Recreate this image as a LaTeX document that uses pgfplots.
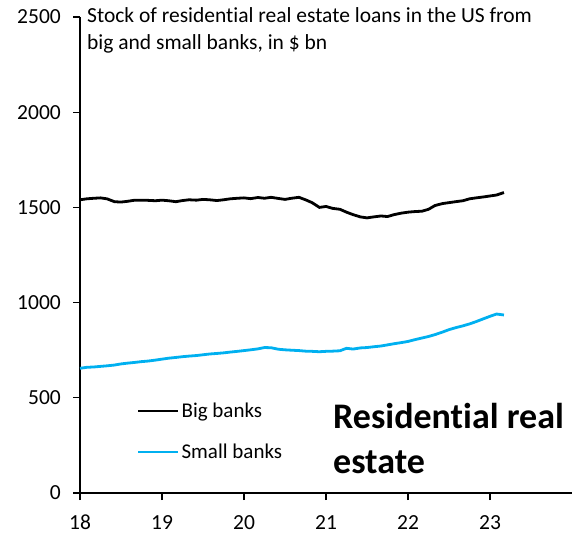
\documentclass[border=0pt]{standalone}
\usepackage{fontspec}
\setmainfont{Carlito}[Ligatures=NoCommon]
\usepackage{pgfplots}
\pgfplotsset{compat=1.18}
\definecolor{smallblue}{HTML}{00B0F0}
\begin{document}
\begin{tikzpicture}
\begin{axis}[
  scale only axis,
  width=492pt, height=476pt,
  xmin=18, xmax=24, ymin=0, ymax=2500,
  axis x line=bottom, axis y line=left,
  axis line style={-, line width=1.3pt},
  tick align=outside, major tick length=7pt,
  tick style={black, line width=1.1pt},
  xtick={18,19,20,21,22,23},
  ytick={0,500,1000,1500,2000,2500},
  /pgf/number format/assume math mode=true,
  /pgf/number format/set thousands separator={},
  ticklabel style={font=\fontsize{21.5}{24}\selectfont, inner sep=0pt},
  yticklabel style={xshift=-12pt},
  xticklabel style={yshift=-15pt},
  clip=false,
  legend style={draw=none, fill=none, at={(axis cs:18.69,323)}, anchor=west,
    font=\fontsize{21}{23}\selectfont, row sep=21pt, inner sep=0pt,
    /tikz/every even column/.append style={column sep=3pt}},
  legend cell align=left,
  legend image code/.code={\draw[#1, line width=2.8pt] (0pt,0pt) -- (40pt,0pt);},
]
\coordinate (O) at (rel axis cs:0,0);
\addplot[black, line width=2.8pt] coordinates {
(18.00,1540) (18.08,1545) (18.17,1548) (18.25,1550) (18.33,1545) (18.42,1530)
(18.50,1528) (18.58,1532) (18.67,1538) (18.75,1538) (18.83,1537) (18.92,1535)
(19.00,1538) (19.08,1535) (19.17,1530) (19.25,1536) (19.33,1540) (19.42,1538)
(19.50,1542) (19.58,1540) (19.67,1536) (19.75,1540) (19.83,1545) (19.92,1548)
(20.00,1550) (20.08,1546) (20.17,1552) (20.25,1548) (20.33,1553) (20.42,1547)
(20.50,1542) (20.58,1548) (20.67,1553) (20.75,1540) (20.83,1525) (20.92,1500)
(21.00,1505) (21.08,1495) (21.17,1490) (21.25,1475) (21.33,1462) (21.42,1450)
(21.50,1445) (21.58,1450) (21.67,1455) (21.75,1452) (21.83,1462) (21.92,1470)
(22.00,1475) (22.08,1478) (22.17,1480) (22.25,1490) (22.33,1510) (22.42,1520)
(22.50,1525) (22.58,1530) (22.67,1535) (22.75,1545) (22.83,1550) (22.92,1555)
(23.00,1560) (23.08,1565) (23.17,1578)
};
\addlegendentry{Big banks}
\addplot[smallblue, line width=2.8pt] coordinates {
(18.00,655) (18.08,660) (18.17,662) (18.25,665) (18.33,668) (18.42,672)
(18.50,678) (18.58,682) (18.67,686) (18.75,690) (18.83,693) (18.92,698)
(19.00,703) (19.08,708) (19.17,712) (19.25,716) (19.33,719) (19.42,722)
(19.50,726) (19.58,730) (19.67,733) (19.75,736) (19.83,740) (19.92,744)
(20.00,748) (20.08,752) (20.17,757) (20.25,764) (20.33,763) (20.42,755)
(20.50,752) (20.58,750) (20.67,748) (20.75,745) (20.83,744) (20.92,742)
(21.00,744) (21.08,745) (21.17,747) (21.25,760) (21.33,756) (21.42,762)
(21.50,764) (21.58,768) (21.67,772) (21.75,778) (21.83,784) (21.92,790)
(22.00,796) (22.08,805) (22.17,814) (22.25,822) (22.33,832) (22.42,845)
(22.50,858) (22.58,868) (22.67,878) (22.75,888) (22.83,900) (22.92,915)
(23.00,928) (23.08,940) (23.17,935)
};
\addlegendentry{Small banks}
\node[anchor=base west, align=left, font=\fontsize{21.5}{27}\selectfont, inner sep=0pt]
  at (axis cs:18.085,2327) {Stock of residential real estate loans in the US from\\big and small banks, in \$ bn};
\node[anchor=base west, align=left, font=\bfseries\fontsize{36}{45}\selectfont, inner sep=0pt]
  at (axis cs:21.085,105) {Residential real\\estate};
\end{axis}
\pgfresetboundingbox
\path[use as bounding box] (O) ++(-80pt,-43pt) rectangle ++(572pt,536pt);
\end{tikzpicture}
\end{document}
